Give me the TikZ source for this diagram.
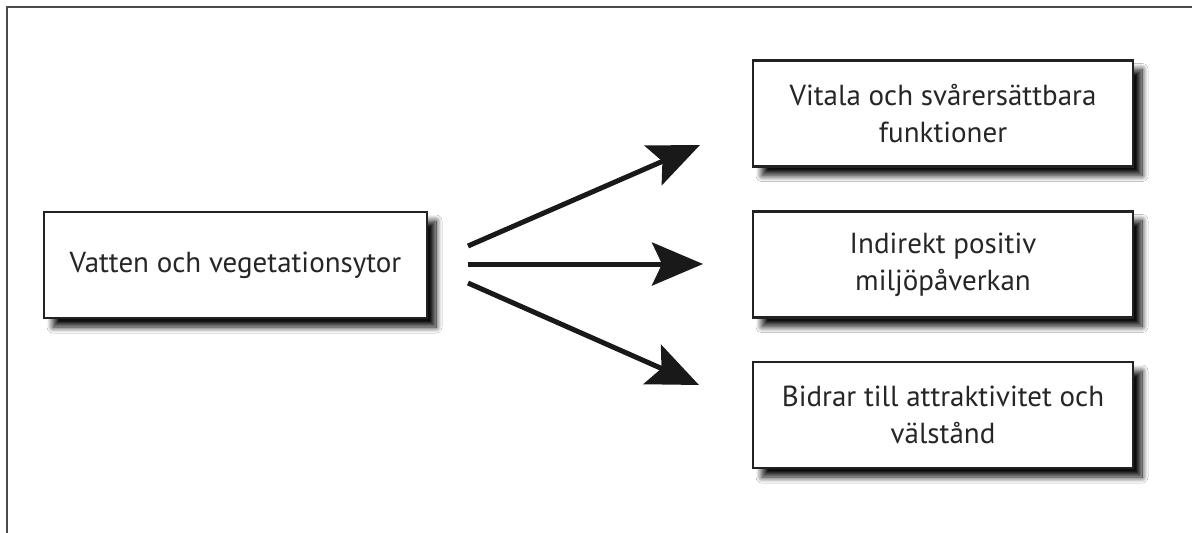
\documentclass[tikz,border=0pt]{standalone}
\usepackage{fontspec}
\setmainfont{PT Sans}
\usetikzlibrary{arrows.meta,shadows.blur}
\definecolor{boxline}{HTML}{222222}
\definecolor{framecol}{HTML}{4A4A4A}
\tikzset{
  box/.style={draw=boxline, line width=2.5pt, fill=white, rectangle,
    minimum width=380pt, minimum height=106pt, inner sep=0pt,
    align=center, font=\fontsize{29}{37}\selectfont, text=black!85,
    blur shadow={shadow xshift=9pt, shadow yshift=-9pt, shadow blur radius=6pt, shadow blur steps=14, shadow opacity=95}},
  arr/.style={line width=5pt, draw=black!90, -{Stealth[length=51pt,width=43pt,inset=10pt]}},
  frameline/.style={draw=framecol, line width=2pt}
}
\begin{document}
\begin{tikzpicture}[x=1pt,y=-1pt]
\useasboundingbox (0,0) rectangle (1192,533);
\fill[white] (0,0) rectangle (1192,533);
\coordinate (fb) at (7,540);
\coordinate (fc) at (7,7);
\coordinate (fr) at (1200,7);
\draw[frameline] (fb) -- (fc) -- (fr);

\node[box, minimum width=383pt] (src) at (235.5,265) {Vatten och vegetationsytor};
\node[box] (t1) at (943,113.5) {Vitala och svårersättbara\\funktioner};
\node[box] (t2) at (943,264.5) {Indirekt positiv\\miljöpåverkan};
\node[box] (t3) at (943,415) {Bidrar till attraktivitet och\\välstånd};

\coordinate (s1) at (468,246);
\coordinate (s2) at (468,264);
\coordinate (s3) at (468,283);
\coordinate (e1) at (700,145);
\coordinate (e2) at (703,264);
\coordinate (e3) at (699,385);
\draw[arr] (s1) -- (e1);
\draw[arr] (s2) -- (e2);
\draw[arr] (s3) -- (e3);
\end{tikzpicture}
\end{document}
